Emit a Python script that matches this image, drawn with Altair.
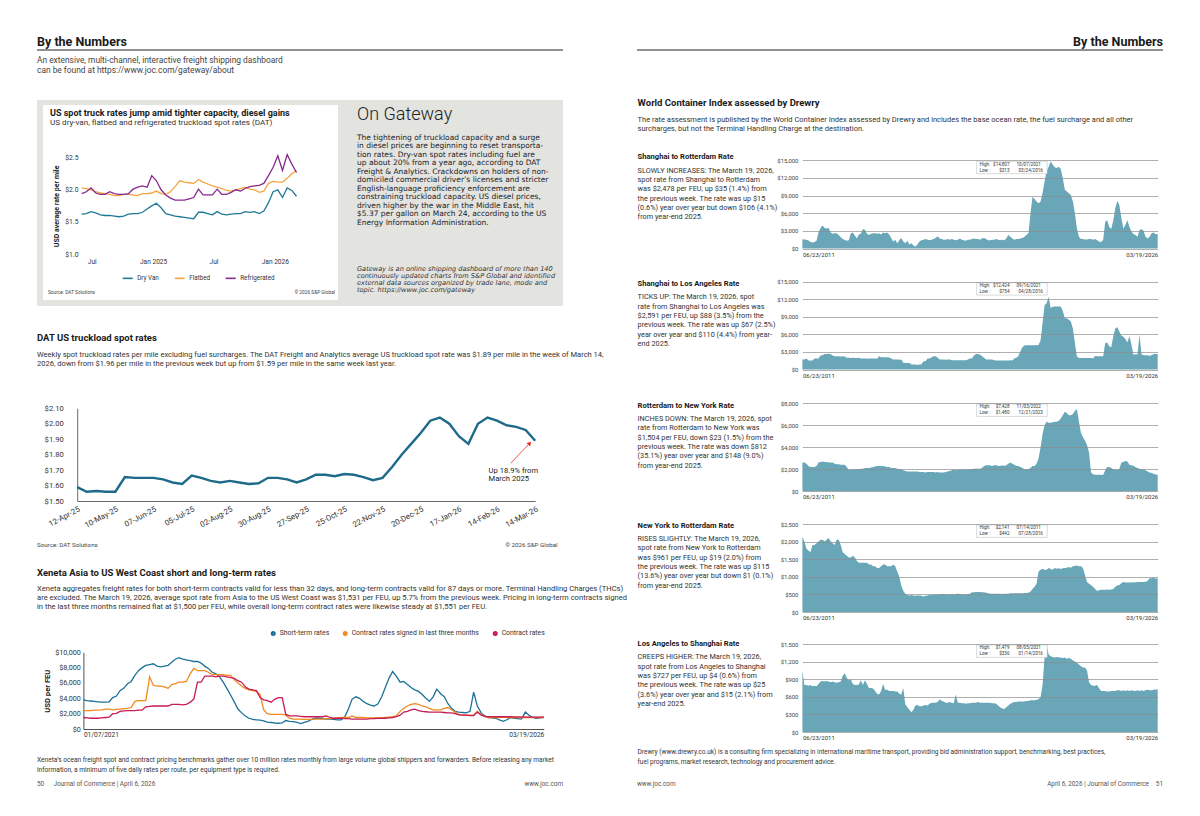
import altair as alt
import pandas as pd

# ---------------------------------------------------------------- data
TRUCK_SERIES = ["Dry Van", "Flatbed", "Refrigerated"]
truck_start = "2024-06-01"
dry_van = [1.62, 1.63, 1.66, 1.64, 1.61, 1.60, 1.60, 1.59, 1.58, 1.59,
           1.62, 1.63, 1.63, 1.65, 1.70, 1.75, 1.79, 1.72, 1.63, 1.61,
           1.59, 1.58, 1.57, 1.56, 1.55, 1.65, 1.65, 1.63, 1.61, 1.66,
           1.62, 1.61, 1.62, 1.63, 1.63, 1.66, 1.65, 1.66, 1.63, 1.67,
           1.80, 1.97, 2.00, 1.88, 2.03, 1.99, 1.90]
flatbed = [2.03, 2.02, 2.00, 1.97, 1.95, 1.94, 1.93, 1.91, 1.91, 1.93,
           1.93, 1.92, 1.91, 1.94, 1.94, 1.95, 1.98, 1.94, 1.93, 1.97,
           2.05, 2.14, 2.12, 2.11, 2.10, 2.16, 2.12, 2.09, 2.06, 2.04,
           2.02, 1.99, 1.98, 2.00, 2.02, 2.04, 2.01, 2.00, 1.96, 1.98,
           2.10, 2.13, 2.12, 2.12, 2.18, 2.25, 2.30]
refrigerated = [1.94, 1.97, 2.03, 1.95, 1.93, 1.93, 1.97, 1.94, 1.93, 1.93,
                1.94, 2.01, 2.04, 2.06, 2.04, 2.22, 2.14, 2.00, 1.92, 1.87,
                1.84, 1.84, 1.84, 1.86, 1.88, 2.01, 1.92, 1.92, 1.92, 2.01,
                1.93, 1.93, 1.96, 2.00, 1.98, 2.02, 2.05, 2.06, 2.07, 2.10,
                2.22, 2.35, 2.53, 2.30, 2.55, 2.40, 2.27]

dat_start = "2025-04-12"
dat_rates = [1.59, 1.56, 1.565, 1.56, 1.56, 1.655, 1.65, 1.65, 1.65, 1.64,
             1.62, 1.61, 1.665, 1.65, 1.63, 1.62, 1.63, 1.62, 1.61, 1.615,
             1.65, 1.65, 1.64, 1.62, 1.64, 1.67, 1.67, 1.66, 1.675, 1.67,
             1.655, 1.635, 1.65, 1.72, 1.80, 1.87, 1.94, 2.02, 2.04, 2.00,
             1.92, 1.87, 2.00, 2.04, 2.02, 1.99, 1.98, 1.96, 1.89]
dat_arrow = {"week": ["2026-02-24"], "rate": [1.744], "week2": ["2026-03-10"], "rate2": [1.874]}

XEN_SERIES = ["Short-term rates", "Contract rates signed in last three months", "Contract rates"]
short_term = [3800, 3700, 3650, 3600, 3550, 3500, 3500, 3550, 4100, 4300,
              5000, 5300, 5900, 6200, 7000, 7600, 8000, 8300, 8400, 8500,
              8200, 8100, 8200, 8300, 8700, 9100, 9300, 9100, 9000, 8900,
              8800, 8800, 8600, 8200, 7900, 7400, 7200, 6800, 6100, 5300,
              4400, 3500, 2600, 2100, 1700, 1400, 1250, 1200, 1150, 1050,
              900, 850, 780, 750, 800, 1100, 1000, 950, 850, 700,
              850, 1000, 1250, 1400, 1400, 1350, 1300, 1300, 1250, 1200,
              1200, 1600, 2600, 3900, 4200, 4000, 3600, 3300, 3100, 3000,
              3300, 4200, 5400, 6600, 7500, 6900, 6100, 6200, 5800, 5400,
              5100, 4900, 4500, 4000, 3600, 4200, 5200, 4600, 4200, 3300,
              2700, 2300, 2200, 2150, 2100, 2300, 4800, 3000, 2100, 1700,
              1500, 1450, 1400, 1200, 1000, 1200, 1500, 1400, 1350, 1300,
              2200, 1800, 1500, 1400, 1450, 1531]
contract_3m = [2400, 2400, 2400, 2450, 2450, 2500, 2600, 2600, 2500, 2550,
               2600, 2650, 2700, 2800, 3600, 3700, 3700, 3700, 6800, 5700,
               5600, 5600, 5500, 5300, 5800, 5900, 6100, 6100, 6200, 7200,
               7900, 7600, 7600, 7600, 7400, 7100, 7100, 7100, 7100, 7000,
               7000, 6400, 6000, 5600, 5300, 5100, 5000, 4900, 4500, 2500,
               2000, 1900, 1900, 1900, 1900, 1800, 1400, 1300, 1300, 1300,
               1250, 1250, 1250, 1300, 1300, 1300, 1350, 1350, 1400, 1450,
               1500, 1500, 1500, 1700, 1500, 1500, 1500, 1450, 1450, 1450,
               1450, 1450, 1500, 1550, 1600, 1700, 2300, 2700, 3000, 3200,
               3300, 3200, 3000, 2900, 2700, 2500, 2500, 2500, 2700, 2800,
               2500, 2200, 1900, 1800, 1800, 1800, 1800, 2300, 1900, 1600,
               1500, 1500, 1500, 1500, 1550, 1500, 1500, 1500, 1500, 1500,
               1500, 1500, 1500, 1500, 1500, 1500]
contract_all = [1500, 1450, 1400, 1400, 1400, 1450, 1500, 1550, 2000, 2050,
                2300, 2350, 2400, 2400, 2400, 2450, 2450, 2900, 2950, 3000,
                3000, 3000, 3000, 3000, 3200, 3200, 3200, 3150, 3200, 3500,
                3900, 6100, 6100, 6900, 6900, 6900, 6800, 6900, 6900, 6800,
                6700, 6600, 6300, 6100, 5500, 5200, 5100, 5000, 4100, 3800,
                3700, 3500, 3900, 4100, 4100, 1900, 1700, 1700, 1700, 1650,
                1600, 1600, 1600, 1600, 1600, 1600, 1700, 1500, 1400, 1400,
                1400, 1350, 1350, 1300, 1300, 1300, 1300, 1300, 1350, 1350,
                1400, 1400, 1400, 1450, 1500, 1600, 1800, 2200, 2300, 2500,
                2600, 2400, 2300, 2250, 2200, 2200, 2200, 2200, 2150, 2100,
                2100, 2000, 1850, 1800, 1800, 1750, 1750, 2200, 1800, 1650,
                1600, 1600, 1600, 1600, 1600, 1600, 1600, 1580, 1570, 1560,
                1560, 1560, 1550, 1550, 1550, 1551]

# World Container Index, monthly (Jul 2011 - Mar 2026)
sh_rtm = {2011: [1580, 1550, 1500, 1350, 1100, 1000],
          2012: [1100, 1300, 2700, 3500, 3900, 3500, 3400, 3500, 2700, 2500, 2600, 2600],
          2013: [2300, 1900, 1600, 1450, 1300, 1400, 2600, 2700, 2200, 1700, 2400, 2500],
          2014: [3300, 3200, 2500, 2300, 2500, 2600, 2600, 2500, 2600, 2400, 2700, 2600],
          2015: [2700, 2400, 1800, 1200, 1500, 900, 1400, 1800, 1200, 900, 1300, 700],
          2016: [900, 500, 350, 700, 1200, 1400, 1500, 1600, 1500, 1400, 1500, 1600],
          2017: [1800, 2100, 1700, 1600, 1500, 1500, 1600, 1500, 1600, 1500, 1400, 1500],
          2018: [1700, 1500, 1400, 1300, 1500, 1500, 1600, 1700, 1600, 1600, 1500, 1700],
          2019: [1800, 1600, 1400, 1400, 1500, 1500, 1600, 1500, 1400, 1500, 1400, 1700],
          2020: [2300, 2000, 1700, 1500, 1600, 1600, 1700, 1800, 2000, 2300, 2600, 6000],
          2021: [8800, 8400, 8000, 7700, 8000, 9500, 11500, 13200, 13900, 14807, 14300, 13800],
          2022: [13700, 13900, 13500, 12000, 10000, 9700, 9400, 9100, 8000, 6000, 3400, 2000],
          2023: [1600, 1600, 1550, 1550, 1600, 1600, 1500, 1600, 1400, 1200, 1050, 1500],
          2024: [4500, 4800, 3700, 3300, 4800, 6800, 8100, 7400, 5200, 3400, 4000, 4800],
          2025: [3700, 2900, 2460, 2300, 2000, 3100, 3300, 3000, 2000, 1700, 2000, 2584],
          2026: [2700, 2443, 2478]}
sh_la = {2011: [1700, 1700, 1900, 1550, 1530, 1530],
         2012: [1870, 1870, 1900, 2400, 2450, 2650, 2650, 2700, 2600, 2400, 2260, 2260],
         2013: [2260, 2200, 2260, 2200, 2000, 2000, 1980, 2000, 1950, 1980, 2000, 1900],
         2014: [1870, 1870, 1870, 1850, 1870, 1900, 1870, 1850, 2260, 2100, 2100, 2100],
         2015: [2100, 2050, 1900, 1700, 1700, 1700, 1650, 1700, 1150, 1130, 1130, 1100],
         2016: [850, 850, 850, 754, 850, 900, 1400, 1400, 1870, 1870, 2100, 2260],
         2017: [2260, 2000, 1700, 1700, 1700, 1650, 1700, 1700, 1600, 1600, 1600, 1600],
         2018: [1600, 1600, 1600, 1600, 1700, 1900, 1900, 2400, 2650, 2650, 2500, 2260],
         2019: [2000, 1700, 1700, 1700, 1700, 1600, 1530, 1530, 1530, 1530, 1530, 1530],
         2020: [1530, 1600, 1550, 1900, 2000, 2300, 3100, 3800, 4100, 4130, 4130, 4130],
         2021: [4130, 4130, 4150, 4200, 5000, 8000, 11000, 11300, 12424, 10500, 10700, 10750],
         2022: [10750, 10750, 10750, 10000, 8770, 8770, 8500, 8200, 7000, 4500, 2200, 1980],
         2023: [1980, 1980, 1980, 1980, 1980, 1950, 1900, 2300, 2260, 2260, 2260, 2260],
         2024: [4500, 4600, 3960, 3800, 5660, 7000, 7200, 6500, 5800, 5600, 5200, 4600],
         2025: [5660, 4250, 2524, 2600, 2550, 5940, 2600, 2430, 2430, 2430, 2300, 2481],
         2026: [2600, 2700, 2591]}
rtm_ny = {2011: [2600, 2600, 2500, 2300, 2200, 2200],
          2012: [2200, 2300, 2600, 2650, 2700, 2650, 2650, 2600, 2600, 2600, 2500, 2450],
          2013: [2450, 2400, 2400, 2400, 2200, 1900, 2000, 1950, 2000, 2000, 2000, 2050],
          2014: [2050, 2100, 2100, 2100, 2150, 2200, 2250, 2300, 2300, 2300, 2300, 2250],
          2015: [2200, 2200, 2100, 2100, 2100, 2050, 2000, 2000, 1900, 1850, 1800, 1800],
          2016: [1800, 1800, 1800, 1800, 1750, 1750, 1750, 1700, 1750, 1750, 1750, 1750],
          2017: [1700, 1750, 1700, 1700, 1700, 1750, 1800, 1850, 1900, 2000, 1900, 1950],
          2018: [1950, 2000, 1950, 1950, 2000, 2000, 2000, 2050, 2050, 2050, 2050, 2100],
          2019: [2300, 2350, 2350, 2350, 2300, 2350, 2350, 2300, 2300, 2350, 2300, 2350],
          2020: [2500, 2600, 2500, 2400, 2300, 2300, 2200, 2100, 2000, 2000, 2000, 2100],
          2021: [2300, 2300, 2500, 3000, 4000, 5200, 6000, 6300, 6200, 6200, 6250, 6300],
          2022: [6300, 6400, 6600, 6900, 7200, 7100, 6900, 6900, 7000, 7300, 7428, 6300],
          2023: [5300, 4900, 4600, 4200, 3500, 1700, 1550, 1500, 1500, 1500, 1500, 1480],
          2024: [1900, 2200, 2200, 2100, 2000, 2000, 1950, 2000, 2600, 2650, 2750, 2700],
          2025: [2400, 2350, 2316, 2200, 2100, 2050, 2000, 1950, 1900, 1800, 1700, 1652],
          2026: [1600, 1527, 1504]}
ny_rtm = {2011: [2141, 2000, 1800, 1750, 1700, 1900],
          2012: [1900, 1950, 2000, 2050, 2050, 2000, 2050, 2100, 2000, 1950, 1900, 2050],
          2013: [2050, 1900, 1700, 1650, 1600, 1550, 1550, 1600, 1550, 1450, 1400, 1400],
          2014: [1400, 1400, 1400, 1350, 1350, 1300, 1300, 1250, 1250, 1300, 1350, 1350],
          2015: [1300, 1300, 1300, 1350, 1300, 1150, 1000, 750, 600, 520, 480, 470],
          2016: [480, 470, 460, 470, 470, 460, 442, 460, 470, 480, 480, 490],
          2017: [500, 500, 500, 510, 510, 500, 500, 500, 510, 500, 510, 520],
          2018: [510, 500, 500, 500, 510, 520, 560, 560, 570, 570, 570, 560],
          2019: [560, 550, 530, 520, 520, 520, 520, 520, 520, 510, 520, 520],
          2020: [520, 530, 530, 530, 530, 530, 530, 530, 540, 540, 550, 580],
          2021: [650, 720, 800, 1150, 1200, 1230, 1200, 1200, 1250, 1220, 1200, 1250],
          2022: [1230, 1240, 1220, 1240, 1250, 1260, 1280, 1260, 1300, 1310, 1320, 1300],
          2023: [1300, 1250, 1050, 850, 800, 760, 720, 650, 600, 620, 630, 630],
          2024: [630, 640, 630, 640, 650, 720, 750, 770, 820, 850, 840, 840],
          2025: [840, 840, 846, 840, 850, 850, 850, 850, 860, 880, 960, 962],
          2026: [980, 942, 961]}
la_sh = {2011: [1050, 800, 800, 790, 800, 780],
         2012: [790, 780, 820, 860, 870, 860, 870, 860, 850, 860, 850, 840],
         2013: [850, 860, 960, 1000, 920, 880, 900, 820, 800, 800, 810, 880],
         2014: [800, 880, 820, 750, 750, 740, 700, 650, 640, 700, 820, 720],
         2015: [720, 700, 700, 700, 690, 690, 650, 640, 750, 470, 420, 380],
         2016: [336, 380, 450, 460, 440, 440, 450, 460, 450, 480, 500, 500],
         2017: [500, 510, 560, 530, 520, 500, 500, 510, 500, 490, 640, 500],
         2018: [500, 490, 490, 480, 490, 490, 500, 500, 500, 510, 500, 500],
         2019: [500, 500, 500, 500, 490, 490, 480, 450, 420, 400, 390, 420],
         2020: [450, 480, 500, 510, 510, 520, 520, 520, 520, 530, 530, 540],
         2021: [540, 540, 550, 560, 600, 800, 1300, 1479, 1320, 1290, 1280, 1270],
         2022: [1280, 1270, 1270, 1260, 1270, 1250, 1260, 1250, 1220, 1200, 1180, 1150],
         2023: [1120, 1100, 1100, 1050, 850, 800, 790, 790, 800, 740, 700, 700],
         2024: [700, 690, 690, 700, 700, 700, 710, 710, 700, 710, 700, 710],
         2025: [700, 710, 702, 700, 710, 700, 710, 700, 710, 720, 710, 712],
         2026: [720, 723, 727]}

# ---------------------------------------------------------------- helpers
W, H = 1184, 798
FONT = "Roboto"
WIDE = "DejaVu Sans"
INK = "#1a1a1a"
BODY = "#333333"
ONE = alt.Data(values=[{}])


def X(px):
    return round(px - 8, 2)


def Y(py):
    return round(py - 8, 2)


def DT(y, m, d):
    return alt.DateTime(year=y, month=m, date=d, utc=True)


def DTs(ts):
    return DT(ts.year, ts.month, ts.day)


def iso(idx):
    return [t.strftime("%Y-%m-%d") for t in idx]


layers = []


def add(ch):
    layers.append(ch)


def text(s, x, y, size, color=BODY, weight="normal", align="left", style="normal", font=FONT):
    add(alt.Chart(ONE).mark_text(text=s, font=font, fontSize=size, color=color,
                                 fontWeight=weight, fontStyle=style, align=align,
                                 baseline="middle")
        .encode(x=alt.value(X(x)), y=alt.value(Y(y))))


def para(lines, x, y0, step, size, **kw):
    for i, s in enumerate(lines):
        text(s, x, y0 + i * step, size, **kw)


def rect(x0, x1, y0, y1, fill, stroke=None, sw=0):
    kw = dict(fill=fill, strokeWidth=sw)
    if stroke:
        kw["stroke"] = stroke
    add(alt.Chart(ONE).mark_rect(**kw).encode(
        x=alt.value(X(x0)), x2=alt.value(X(x1)), y=alt.value(Y(y0)), y2=alt.value(Y(y1))))


def hrule(x0, x1, y, color="#222", sw=1.0):
    add(alt.Chart(ONE).mark_rule(color=color, strokeWidth=sw).encode(
        x=alt.value(X(x0)), x2=alt.value(X(x1)), y=alt.value(Y(y))))


# ---------------------------------------------------------------- page furniture
rect(37, 563, 100, 306, "#e3e3e0")
rect(43, 338, 105, 300, "#ffffff")
hrule(37, 563, 50)
hrule(637, 1163, 50)

text("By the Numbers", 37, 41.5, 12.5, color=INK, weight="bold")
text("By the Numbers", 1163, 41.5, 12.5, color=INK, weight="bold", align="right")
para(["An extensive, multi-channel, interactive freight shipping dashboard",
      "can be found at  https://www.joc.com/gateway/about"], 37, 60, 10.3, 8.4, color="#444")

# ---------------------------------------------------------------- truck chart (card)
text("US spot truck rates jump amid tighter capacity, diesel gains", 50, 113, 9.0, color=INK, weight="bold")
text("US dry-van, flatbed and refrigerated truckload spot rates (DAT)", 50, 122.7, 8.1, color=BODY)
text("Source: DAT Solutions", 48, 293, 4.8, color="#444")
text("\u00a9 2026 S&P Global", 335, 293, 4.8, color="#444", align="right")

n_tr = len(dry_van)
truck_dates = iso(pd.date_range(truck_start, periods=n_tr, freq="14D"))
truck_df = pd.DataFrame({
    "date": truck_dates * 3,
    "series": [TRUCK_SERIES[0]] * n_tr + [TRUCK_SERIES[1]] * n_tr + [TRUCK_SERIES[2]] * n_tr,
    "rate": dry_van + flatbed + refrigerated,
})
truck = alt.Chart(truck_df).mark_line(strokeWidth=1.3).encode(
    x=alt.X("date:T",
            scale=alt.Scale(type="utc", domain=[DT(2024, 6, 1), DT(2026, 3, 16)],
                            range=[X(81.7), X(299.5)], nice=False),
            axis=alt.Axis(orient="bottom", offset=Y(255) - H,
                          values=[DT(2024, 7, 1), DT(2025, 1, 1), DT(2025, 7, 1), DT(2026, 1, 1)],
                          labelExpr="utcmonth(datum.value) == 0 ? utcFormat(datum.value, '%b %Y') : utcFormat(datum.value, '%b')",
                          domain=False, ticks=False, grid=False, labelFontSize=6.6,
                          labelColor=BODY, labelPadding=3, title=None, labelFlush=False, zindex=2)),
    y=alt.Y("rate:Q",
            scale=alt.Scale(domain=[1.0, 2.5], range=[Y(254), Y(157.7)], nice=False, zero=False),
            axis=alt.Axis(orient="left", offset=-X(82), values=[1.0, 1.5, 2.0, 2.5], format="$.1f",
                          domain=False, ticks=False, grid=False, labelFontSize=6.8, labelColor=BODY,
                          labelPadding=4, title="USD average rate per mile", titleFontSize=7.0,
                          titleFontWeight="bold", titleColor=INK, titlePadding=5, zindex=2)),
    color=alt.Color("series:N",
                    scale=alt.Scale(domain=TRUCK_SERIES, range=["#1f7896", "#f5a540", "#8a2a8e"]),
                    legend=alt.Legend(orient="none", legendX=X(121.7), legendY=Y(272.0),
                                      direction="horizontal", title=None, symbolType="stroke",
                                      symbolSize=100, symbolStrokeWidth=1.6, labelFontSize=6.3,
                                      labelColor=BODY, columnPadding=11, labelOffset=3.5, padding=0)),
)
add(truck)

# ---------------------------------------------------------------- On Gateway
text("On Gateway", 357, 115, 18, color="#222", weight=300)
para(["The tightening of truckload capacity and a surge",
      "in diesel prices are beginning to reset transporta-",
      "tion rates. Dry-van spot rates including fuel  are",
      "up about 20% from a year ago, according to DAT",
      "Freight & Analytics. Crackdowns on holders of non-",
      "domiciled commercial driver\u2019s licenses and stricter",
      "English-language proficiency enforcement are",
      "constraining truckload capacity. US diesel prices,",
      "driven higher by the war in the Middle East, hit",
      "$5.37 per gallon on March 24, according to the US",
      "Energy Information Administration."], 357, 137.7, 8.5, 7.5, color="#222", font=WIDE)
para(["Gateway is an online shipping dashboard of more than 140",
      "continuously updated charts from S&P Global and identified",
      "external data sources organized by trade lane, mode and",
      "topic. https://www.joc.com/gateway"], 357, 269, 7.1, 6.6, color="#333", style="italic", font=WIDE)

# ---------------------------------------------------------------- DAT chart
text("DAT US truckload spot rates", 37, 337.5, 9.5, color=INK, weight="bold")
para(["Weekly spot truckload rates per mile excluding fuel surcharges. The DAT Freight and Analytics average US truckload spot rate was $1.89 per mile in the week of March 14,",
      "2026, down from $1.96 per mile in the previous week but up from $1.59 per mile in the same week last year."],
     37, 354.5, 9.5, 7.55)

dat_idx = pd.date_range(dat_start, periods=len(dat_rates), freq="7D")
dat_df = pd.DataFrame({"week": iso(dat_idx), "rate": dat_rates})
dat_line = alt.Chart(dat_df).mark_line(color="#1e6a8a", strokeWidth=2.4).encode(
    x=alt.X("week:T",
            scale=alt.Scale(type="utc", domain=[DTs(dat_idx[0]), DTs(dat_idx[-1])],
                            range=[X(77.2), X(535.2)], nice=False),
            axis=alt.Axis(orient="bottom", offset=Y(501) - H,
                          values=[DTs(t) for t in dat_idx[::4]], format="%d-%b-%y",
                          labelAngle=-28, labelFontSize=7.8, labelColor=BODY, labelPadding=4,
                          domain=True, domainColor="#444", domainWidth=0.8, ticks=False,
                          grid=False, title=None, labelOverlap=False, labelFlush=False)),
    y=alt.Y("rate:Q",
            scale=alt.Scale(domain=[1.5, 2.1], range=[Y(501), Y(408.3)], nice=False, zero=False),
            axis=alt.Axis(orient="left", offset=-X(77.2),
                          values=[1.5, 1.6, 1.7, 1.8, 1.9, 2.0, 2.1], format="$.2f",
                          domain=True, domainColor="#444", domainWidth=0.8, ticks=False,
                          grid=False, labelFontSize=7.6, labelColor=BODY, labelPadding=14, title=None)),
)
arrow_df = pd.DataFrame(dat_arrow)
dat_arrow_rule = alt.Chart(arrow_df).mark_rule(color="#e8302a", strokeWidth=0.8).encode(
    x="week:T", y="rate:Q", x2="week2:T", y2="rate2:Q")
dat_arrow_head = alt.Chart(arrow_df).mark_point(shape="triangle-up", filled=True, color="#e8302a",
                                                size=24, angle=43, opacity=1).encode(
    x="week2:T", y="rate2:Q")
add(alt.layer(dat_line, dat_arrow_rule, dat_arrow_head))
para(["Up 18.9% from", "March 2025"], 488.6, 470.7, 8.6, 7.6, color="#222")
text("Source: DAT Solutions", 37, 545, 6.2, color="#444")
text("\u00a9 2026 S&P Global", 557.6, 545, 6.2, color="#444", align="right")

# ---------------------------------------------------------------- Xeneta chart
text("Xeneta Asia to US West Coast short and long-term rates", 37, 572.7, 9.5, color=INK, weight="bold")
para(["Xeneta aggregates freight rates for both short-term contracts valid for less than 32 days, and long-term contracts valid for 87 days or more. Terminal Handling Charges (THCs)",
      "are excluded. The March 19, 2026, average spot rate from Asia to the US West Coast was $1,531 per FEU, up 5.7% from the previous week. Pricing in long-term contracts signed",
      "in the last three months remained flat at $1,500 per FEU, while overall long-term contract rates were likewise steady at $1,551 per FEU."],
     37, 588.5, 9.3, 7.6)

n_x = len(short_term)
xen_dates = iso(pd.date_range("2021-01-07", "2026-03-19", periods=n_x))
xen_df = pd.DataFrame({
    "date": xen_dates * 3,
    "series": [XEN_SERIES[0]] * n_x + [XEN_SERIES[1]] * n_x + [XEN_SERIES[2]] * n_x,
    "rate": short_term + contract_3m + contract_all,
})
xen = alt.Chart(xen_df).mark_line(strokeWidth=1.3).encode(
    x=alt.X("date:T",
            scale=alt.Scale(type="utc", domain=[DT(2021, 1, 7), DT(2026, 3, 19)],
                            range=[X(83.4), X(543.8)], nice=False),
            axis=alt.Axis(orient="bottom", offset=Y(729) - H,
                          values=[DT(2021, 1, 7), DT(2026, 3, 19)], format="%m/%d/%Y",
                          labelFlush=True, labelFontSize=6.6, labelColor=BODY, labelPadding=2.5,
                          domain=True, domainColor="#222", domainWidth=0.8, ticks=False,
                          grid=False, title=None)),
    y=alt.Y("rate:Q",
            scale=alt.Scale(domain=[0, 10000], range=[Y(729), Y(652.3)], nice=False),
            axis=alt.Axis(orient="left", offset=-X(83.4), values=[0, 2000, 4000, 6000, 8000, 10000],
                          format="$,.0f", domain=True, domainColor="#222", domainWidth=0.8,
                          ticks=False, grid=False, labelFontSize=7.2, labelColor=BODY,
                          labelPadding=3, title="USD per FEU", titleFontSize=7.6,
                          titleFontWeight="bold", titleColor=INK, titlePadding=3)),
    color=alt.Color("series:N",
                    scale=alt.Scale(domain=XEN_SERIES, range=["#1d7198", "#f08a1e", "#c81a55"]),
                    legend=alt.Legend(orient="none", legendX=X(269.8), legendY=Y(629.6),
                                      direction="horizontal", title=None, symbolType="circle",
                                      symbolSize=5, symbolStrokeWidth=2.8, labelFontSize=6.85,
                                      labelColor=BODY, columnPadding=8, labelOffset=3, padding=0)),
)
add(xen)
para(["Xeneta\u2019s ocean freight spot and contract pricing benchmarks gather over 10 million rates monthly from large volume global shippers and forwarders. Before releasing any market",
      "information, a minimum of five daily rates per route, per equipment type is required."],
     37, 759.5, 10, 6.6)
text("50", 37, 784, 6.4, color="#555")
text("Journal of Commerce  |  April 6, 2026", 53.4, 784, 6.4, color="#555")
text("www.joc.com", 563, 784, 6.4, color="#555", align="right")

# ---------------------------------------------------------------- World Container Index
text("World Container Index assessed by Drewry", 637.6, 103.3, 9.5, color=INK, weight="bold")
para(["The rate assessment is published by the World Container Index assessed by Drewry and includes the base ocean rate, the fuel surcharge and all other",
      "surcharges, but not the Terminal Handling Charge at the destination."], 637.6, 119.8, 9.2, 7.5)


def flatten(d):
    out = []
    for yr in sorted(d):
        out += d[yr]
    return out


wci_dates = iso(pd.date_range("2011-06-23", "2026-03-19", periods=len(flatten(sh_rtm))))
AREA = "#68a6b8"
WX0, WX1 = 802.4, 1157.7

panels = [
    dict(vals=flatten(sh_rtm), top=160.3, bottom=248.5, ymax=15000, step=3000,
         title="Shanghai to Rotterdam Rate", ty=157.3,
         lines=["SLOWLY INCREASES: The March 19, 2026,",
                "spot rate from Shanghai to Rotterdam",
                "was $2,478 per FEU, up $35 (1.4%) from",
                "the previous week. The rate was up $15",
                "(0.6%) year over year but down $106 (4.1%)",
                "from year-end 2025."],
         hl=("$14,807", "10/07/2021", "$313", "03/24/2016")),
    dict(vals=flatten(sh_la), top=281.7, bottom=369.5, ymax=15000, step=3000,
         title="Shanghai to Los Angeles Rate", ty=284,
         lines=["TICKS UP: The March 19, 2026, spot",
                "rate from Shanghai to Los Angeles was",
                "$2,591 per FEU, up $88 (3.5%) from the",
                "previous week. The rate was up $67 (2.5%)",
                "year over year and $110 (4.4%) from year-",
                "end 2025."],
         hl=("$12,424", "09/16/2021", "$754", "04/28/2016")),
    dict(vals=flatten(rtm_ny), top=403, bottom=491.3, ymax=8000, step=2000,
         title="Rotterdam to New York Rate", ty=405.7,
         lines=["INCHES DOWN: The March 19, 2026, spot",
                "rate from Rotterdam to New York was",
                "$1,504 per FEU, down $23 (1.5%) from the",
                "previous week. The rate was down $812",
                "(35.1%) year over year and $148 (9.0%)",
                "from year-end 2025."],
         hl=("$7,428", "11/03/2022", "$1,480", "12/21/2023")),
    dict(vals=flatten(ny_rtm), top=524, bottom=612, ymax=2500, step=500,
         title="New York to Rotterdam Rate", ty=525.7,
         lines=["RISES SLIGHTLY: The March 19, 2026,",
                "spot rate from New York to Rotterdam",
                "was $961 per FEU, up $19 (2.0%) from",
                "the previous week. The rate was up $115",
                "(13.6%) year over year but down $1 (0.1%)",
                "from year-end 2025."],
         hl=("$2,141", "07/14/2011", "$442", "07/28/2016")),
    dict(vals=flatten(la_sh), top=644, bottom=732, ymax=1500, step=300,
         title="Los Angeles to Shanghai Rate", ty=644,
         lines=["CREEPS HIGHER: The March 19, 2026,",
                "spot rate from Los Angeles to Shanghai",
                "was $727 per FEU, up $4 (0.6%) from",
                "the previous week. The rate was up $25",
                "(3.6%) year over year and $15 (2.1%) from",
                "year-end 2025."],
         hl=("$1,479", "08/05/2021", "$336", "01/14/2016")),
]

for p in panels:
    df = pd.DataFrame({"date": wci_dates, "rate": p["vals"]})
    area = alt.Chart(df).mark_area(color=AREA, opacity=1, interpolate="linear").encode(
        x=alt.X("date:T",
                scale=alt.Scale(type="utc", domain=[DT(2011, 6, 23), DT(2026, 3, 19)],
                                range=[X(WX0), X(WX1)], nice=False),
                axis=alt.Axis(orient="bottom", offset=Y(p["bottom"]) - H,
                              values=[DT(2011, 6, 23), DT(2026, 3, 19)], format="%m/%d/%Y",
                              labelFlush=True, labelFontSize=6.0, labelColor=BODY,
                              labelPadding=2.5, domain=False, ticks=False, grid=False, title=None)),
        y=alt.Y("rate:Q",
                scale=alt.Scale(domain=[0, p["ymax"]], range=[Y(p["bottom"]), Y(p["top"])], nice=False),
                axis=alt.Axis(orient="left", offset=-X(WX0),
                              values=list(range(0, p["ymax"] + 1, p["step"])), format="$,.0f",
                              grid=True, gridColor="#8c8c8c", gridWidth=0.7, domain=False,
                              ticks=False, labelFontSize=5.9, labelColor="#444", labelPadding=4.5,
                              title=None, zindex=1)),
    )
    add(area)
    text(p["title"], 637.6, p["ty"], 7.6, color=INK, weight="bold")
    para(p["lines"], 637.6, p["ty"] + 13.3, 9.35, 7.3)
    bt = p["top"] + 1
    rect(976.6, 1047.2, bt, bt + 12.4, "#ffffff", stroke="#b5b5b5", sw=0.5)
    hv, hd, lv, ld = p["hl"]
    text("High:", 979.5, bt + 3.4, 4.6)
    text(hv, 1009.5, bt + 3.4, 4.6, align="right")
    text(hd, 1016.5, bt + 3.4, 4.6)
    text("Low  :", 979.5, bt + 9.2, 4.6)
    text(lv, 1009.5, bt + 9.2, 4.6, align="right")
    text(ld, 1018.5, bt + 9.2, 4.6)

para(["Drewry (www.drewry.co.uk) is a consulting firm specializing in international maritime transport, providing bid administration support, benchmarking, best practices,",
      "fuel programs, market research, technology and procurement advice."], 637.6, 751.5, 10.5, 6.5)
text("www.joc.com", 637, 784, 6.4, color="#555")
text("April 6, 2026  |  Journal of Commerce", 1149, 784, 6.4, color="#555", align="right")
text("51", 1163, 784, 6.4, color="#555", align="right")

# ---------------------------------------------------------------- assemble
chart = (alt.layer(*layers)
         .resolve_scale(x="independent", y="independent", color="independent")
         .properties(width=W, height=H, padding=0, background="white",
                     autosize=alt.AutoSizeParams(type="none"))
         .configure_view(stroke=None)
         .configure_axis(labelFont=FONT, titleFont=FONT)
         .configure_legend(labelFont=FONT)
         .configure_text(font=FONT))

chart.save("out.html", embed_options={"renderer": "svg", "actions": False})
